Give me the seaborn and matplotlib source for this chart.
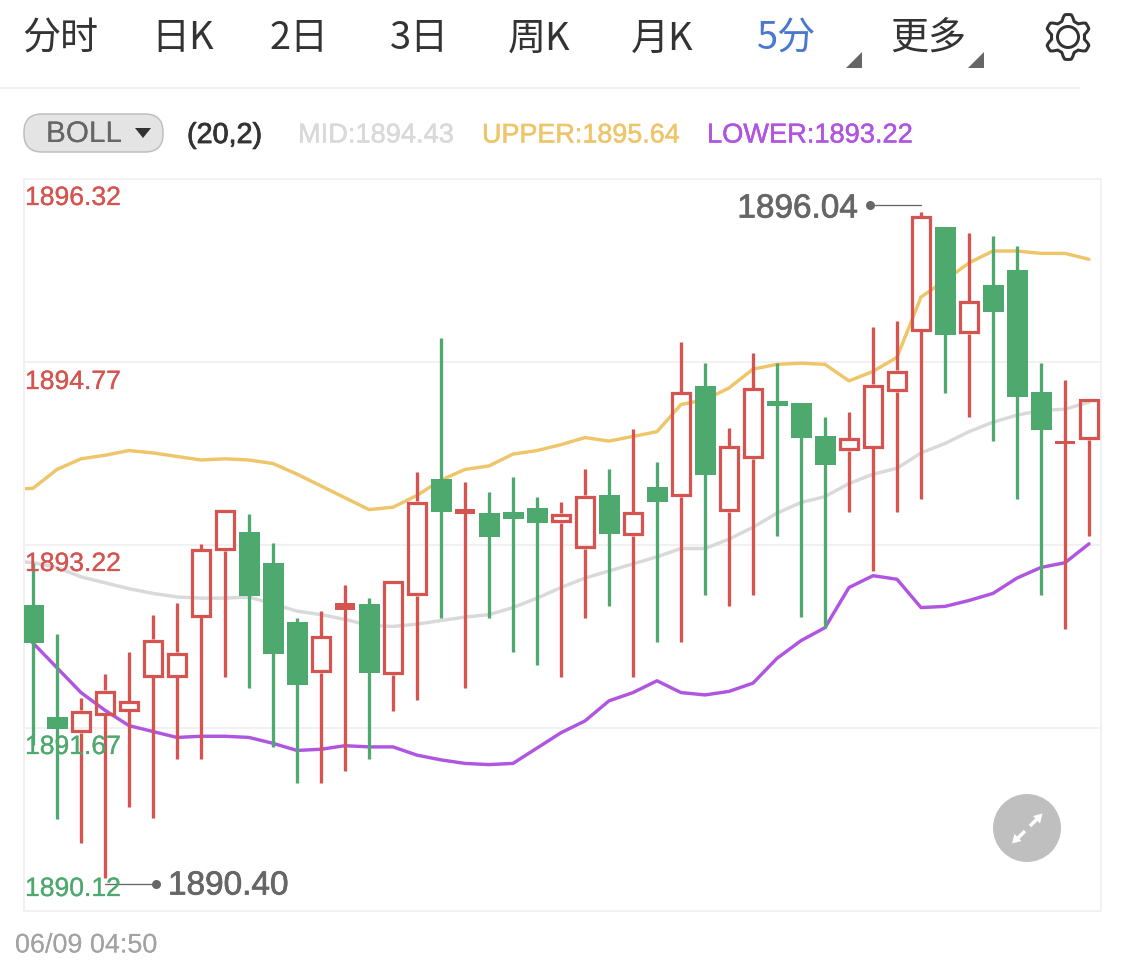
#! /usr/bin/env python3
# coding: utf-8

import numpy as np
import pandas as pd
import matplotlib
matplotlib.use("Agg")
import matplotlib.pyplot as plt
import matplotlib.patheffects as pe
import seaborn as sns
from matplotlib.patches import Circle, FancyBboxPatch, Polygon

# 5 minute candles, prices
opens = [1892.71, 1891.76, 1891.63, 1891.78, 1891.81, 1892.10, 1892.10, 1892.61, 1893.17,
         1893.33, 1893.07, 1892.57, 1892.14, 1892.68, 1892.72, 1892.12, 1892.79, 1893.78,
         1893.49, 1893.49, 1893.50, 1893.53, 1893.41, 1893.19, 1893.64, 1893.30, 1893.71,
         1893.63, 1894.57, 1893.50, 1893.95, 1894.44, 1894.42, 1894.14, 1894.02, 1894.04,
         1894.52, 1895.03, 1895.91, 1895.01, 1895.42, 1895.55, 1894.52, 1894.08, 1894.11]
closes = [1892.39, 1891.66, 1891.82, 1891.99, 1891.90, 1892.42, 1892.31, 1893.19, 1893.52,
          1892.79, 1892.30, 1892.03, 1892.45, 1892.72, 1892.14, 1892.92, 1893.59, 1893.50,
          1893.52, 1893.29, 1893.44, 1893.41, 1893.49, 1893.64, 1893.31, 1893.50, 1893.58,
          1894.52, 1893.81, 1894.06, 1894.55, 1894.40, 1894.13, 1893.90, 1894.13, 1894.58,
          1894.70, 1896.01, 1895.00, 1895.29, 1895.19, 1894.47, 1894.19, 1894.09, 1894.46]
highs = [1893.07, 1892.47, 1891.92, 1892.13, 1892.31, 1892.63, 1892.73, 1893.23, 1893.52,
         1893.48, 1893.24, 1892.60, 1892.66, 1892.88, 1892.77, 1892.92, 1893.84, 1894.97,
         1893.75, 1893.67, 1893.80, 1893.63, 1893.58, 1893.86, 1893.86, 1894.20, 1893.92,
         1894.94, 1894.76, 1894.21, 1894.85, 1894.76, 1894.42, 1894.30, 1894.35, 1895.07,
         1895.12, 1896.04, 1895.91, 1895.86, 1895.84, 1895.75, 1894.76, 1894.62, 1894.46]
lows = [1891.53, 1890.90, 1890.70, 1890.40, 1891.00, 1890.91, 1891.41, 1891.41, 1892.10,
        1892.01, 1891.51, 1891.20, 1891.20, 1891.31, 1891.41, 1891.81, 1891.91, 1892.60,
        1892.01, 1892.60, 1892.31, 1892.20, 1892.10, 1892.60, 1892.70, 1892.10, 1892.40,
        1892.40, 1892.80, 1892.70, 1892.80, 1893.30, 1892.61, 1892.52, 1893.50, 1893.00,
        1893.50, 1893.61, 1894.51, 1894.30, 1894.10, 1893.61, 1892.80, 1892.51, 1893.30]

# BOLL bands, first value belongs to the candle just left of the frame
upper = [1893.69, 1893.70, 1893.86, 1893.95, 1893.98, 1894.02, 1894.00, 1893.97, 1893.94, 1893.95,
         1893.94, 1893.91, 1893.82, 1893.72, 1893.62, 1893.52, 1893.54, 1893.64, 1893.77, 1893.86,
         1893.89, 1893.99, 1894.02, 1894.07, 1894.13, 1894.10, 1894.14, 1894.18, 1894.41, 1894.45,
         1894.55, 1894.71, 1894.75, 1894.76, 1894.75, 1894.61, 1894.69, 1894.81, 1895.32, 1895.46,
         1895.61, 1895.71, 1895.71, 1895.69, 1895.69, 1895.64]
mid = [1893.09, 1893.07, 1893.03, 1892.95, 1892.90, 1892.85, 1892.81, 1892.78, 1892.77, 1892.77,
       1892.78, 1892.72, 1892.66, 1892.63, 1892.59, 1892.54, 1892.53, 1892.55, 1892.58, 1892.61,
       1892.63, 1892.69, 1892.77, 1892.86, 1892.94, 1893.00, 1893.06, 1893.12, 1893.19, 1893.19,
       1893.27, 1893.37, 1893.49, 1893.58, 1893.63, 1893.74, 1893.82, 1893.87, 1894.00, 1894.08,
       1894.18, 1894.26, 1894.32, 1894.36, 1894.37, 1894.43]
lower = [1892.58, 1892.39, 1892.18, 1891.97, 1891.82, 1891.69, 1891.64, 1891.59, 1891.60, 1891.60,
         1891.59, 1891.54, 1891.48, 1891.49, 1891.52, 1891.51, 1891.51, 1891.44, 1891.40, 1891.37,
         1891.36, 1891.37, 1891.50, 1891.63, 1891.73, 1891.90, 1891.97, 1892.07, 1891.97, 1891.95,
         1891.98, 1892.05, 1892.26, 1892.41, 1892.52, 1892.86, 1892.96, 1892.93, 1892.69, 1892.70,
         1892.75, 1892.81, 1892.94, 1893.03, 1893.07, 1893.23]

price_ticks = [1896.32, 1894.77, 1893.22, 1891.67, 1890.12]
tabs = ["分时", "日K", "2日", "3日", "周K", "月K", "5分", "更多"]
tab_x = [22, 151, 270, 390, 508, 631, 757, 890]
time_label = "06/09 04:50"

RED = "#D6544F"
GREEN = "#4EA96E"
YELLOW = "#EFC56A"
PURPLE = "#B055E0"
GREY_MID = "#D9D9D9"
FRAME = "#F1F1F1"
W, H = 1125, 973
PX = 72 / 100  # one pixel in points
LATIN = "Liberation Sans"

sns.set_theme(style="white")
plt.rcParams["font.family"] = ["Noto Sans CJK SC", "DejaVu Sans"]


def fat_text(axe, x, y, s, stroke=0.35, **kw):
    """the phone font is a bit fatter than Liberation"""
    txt = axe.text(x, y, s, family=LATIN, va="center", **kw)
    txt.set_path_effects([pe.Stroke(linewidth=stroke, foreground=kw["color"]), pe.Normal()])
    return txt


fig = plt.figure(figsize=(W / 100, H / 100), dpi=100, facecolor="white")
ax = fig.add_axes([24 / W, 1 - 911 / H, (1101 - 24) / W, (911 - 179) / H])

# grid and frame
ax.set_xlim(-0.375, 44.5)
ax.set_ylim(price_ticks[-1], price_ticks[0])
ax.set_xticks([])
ax.set_yticks(price_ticks[1:-1])
ax.set_yticklabels([])
ax.tick_params(length=0)
ax.grid(axis="y", color=FRAME, lw=2 * PX, zorder=0)
ax.set_axisbelow(True)
for spine in ax.spines.values():
    spine.set_color(FRAME)
    spine.set_linewidth(2 * PX)

# bands sit under the candles
df_bands = pd.DataFrame({
    "i": np.arange(-1, 45),
    "MID": mid,
    "UPPER": upper,
    "LOWER": lower,
}).melt(id_vars="i", var_name="band", value_name="price")
sns.lineplot(data=df_bands, x="i", y="price", hue="band",
             palette={"MID": GREY_MID, "UPPER": YELLOW, "LOWER": PURPLE},
             lw=3.4 * PX, errorbar=None, legend=False, ax=ax, zorder=2)
ax.set_xlabel("")
ax.set_ylabel("")

# stroke of a hollow candle straddles its edge, keep the outer edge on the price
per_px = (price_ticks[0] - price_ticks[-1]) / (911 - 179)
pad = 1.5 * per_px
WICK = 3.3 * PX

for i, (o, c, hi, lo) in enumerate(zip(opens, closes, highs, lows)):
    top, bottom = max(o, c), min(o, c)
    if c < o:
        ax.vlines(i, lo, hi, color=GREEN, lw=WICK, zorder=3)
        ax.bar(i, top - bottom, bottom=bottom, width=21 / 24, color=GREEN, lw=0, zorder=4)
    else:
        ax.vlines(i, lo, bottom, color=RED, lw=WICK, zorder=3)
        ax.vlines(i, top, hi, color=RED, lw=WICK, zorder=3)
        if top - bottom > 2 * pad + 2 * per_px:
            ax.bar(i, top - bottom - 2 * pad, bottom=bottom + pad, width=17.5 / 24,
                   facecolor="none", edgecolor=RED, lw=3.2 * PX, zorder=4)
        else:
            # nearly flat candle, just a short thick dash
            ax.bar(i, top - bottom + 2 * per_px, bottom=bottom - per_px, width=20 / 24,
                   color=RED, lw=0, zorder=4)

# everything around the plot, placed in pixels
ui = fig.add_axes([0, 0, 1, 1], facecolor="none")
ui.set_xlim(0, W)
ui.set_ylim(H, 0)
ui.axis("off")

for name, x in zip(tabs, tab_x):
    ui.text(x, 39, name, fontsize=27.4, va="center", ha="left",
            color="#4A78D0" if name == "5分" else "#333333",
            family=["Noto Sans CJK SC", "DejaVu Sans"])
for x in (862, 984):
    ui.add_patch(Polygon([(x, 52), (x, 68), (x - 16, 68)], closed=True, color="#666666", lw=0))

# gear, six teeth with one pointing up
angles = np.linspace(0, 2 * np.pi, 360)
radius = 19.5 + 3 * np.clip(1.5 * np.cos(6 * (angles - np.pi / 2)), -1, 1)
ui.plot(1068 + radius * np.cos(angles), 37 + radius * np.sin(angles),
        color="#333333", lw=3 * PX)
ui.add_patch(Circle((1068, 37), 10.5, fill=False, edgecolor="#333333", lw=3 * PX))

ui.plot([0, 1080], [88, 88], color=FRAME, lw=2 * PX)

# indicator row
ui.add_patch(FancyBboxPatch((24, 114), 139, 38, boxstyle="round,pad=0,rounding_size=18",
                            facecolor="#E4E4E4", edgecolor="#BDBDBD", lw=1.5 * PX))
fat_text(ui, 46, 134, "BOLL", stroke=0, fontsize=21.4, color="#666666")
ui.add_patch(Polygon([(135, 128), (151, 128), (143, 138)], closed=True, color="#333333", lw=0))
fat_text(ui, 187, 135, "(20,2)", stroke=0.6, fontsize=20.7, color="#333333")
fat_text(ui, 298, 135.5, f"MID:{mid[-1]:.2f}", fontsize=19.6, color=GREY_MID)
fat_text(ui, 482, 135.5, f"UPPER:{upper[-1]:.2f}", fontsize=19.4, color=YELLOW)
fat_text(ui, 707, 135.5, "LOWER:1893.22", fontsize=19.6, color=PURPLE)

# price labels
label_y = [198, 382, 564, 747, 889]
label_col = [RED, RED, RED, GREEN, GREEN]
for p, y, col in zip(price_ticks, label_y, label_col):
    fat_text(ui, 25, y, f"{p:.2f}", stroke=0.2, fontsize=19.1, color=col)

# extreme callouts
ui.plot([870, 921], [205, 205], color="#666666", lw=1.3 * PX)
ui.plot([870], [205], "o", color="#666666", ms=9 * PX, mew=0)
fat_text(ui, 858, 209, f"{max(highs):.2f}", stroke=0.55, fontsize=24, color="#666666", ha="right")
ui.plot([105, 156], [884, 884], color="#666666", lw=1.3 * PX)
ui.plot([156], [884], "o", color="#666666", ms=9 * PX, mew=0)
fat_text(ui, 168, 886, f"{min(lows):.2f}", stroke=0.55, fontsize=24, color="#666666", ha="left")

fat_text(ui, 15, 945.5, time_label, stroke=0, fontsize=19.4, color="#A3A3A3")

# expand button
ui.add_patch(Circle((1027, 828), 34, color="#BFBFBF", lw=0))
ui.plot([1030, 1037], [826, 819], color="white", lw=3.5 * PX, solid_capstyle="butt")
ui.add_patch(Polygon([(1042.5, 813.5), (1033, 816), (1040, 823.5)], closed=True, color="white", lw=0))
ui.plot([1025, 1018], [831, 838], color="white", lw=3.5 * PX, solid_capstyle="butt")
ui.add_patch(Polygon([(1012, 843.5), (1014.5, 834), (1021.5, 841)], closed=True, color="white", lw=0))

fig.savefig("out.png", dpi=100)
